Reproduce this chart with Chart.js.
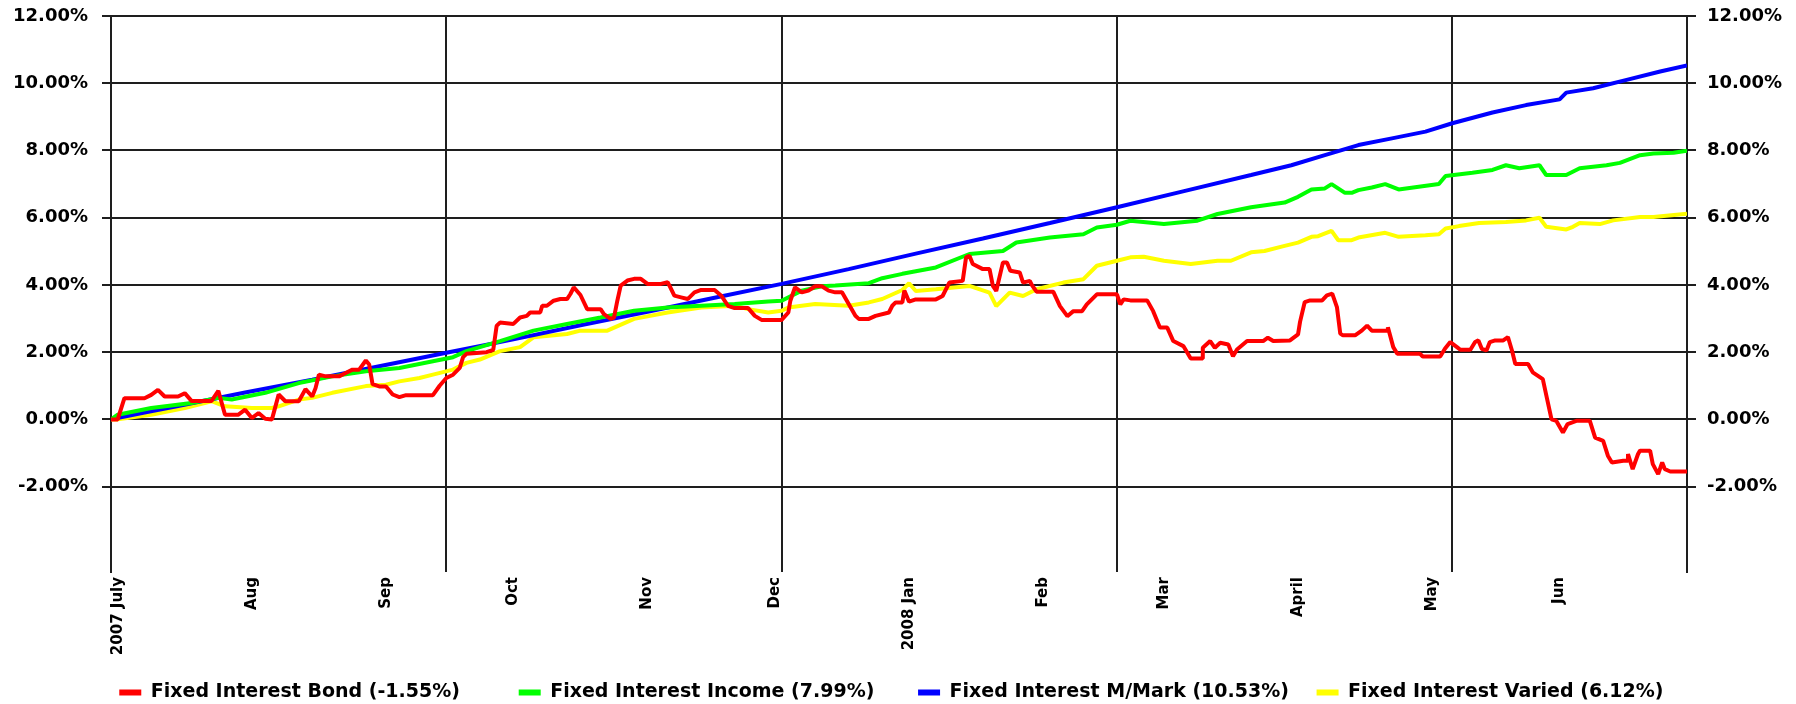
<!DOCTYPE html>
<html>
<head>
<meta charset="utf-8">
<script src="https://cdn.jsdelivr.net/npm/chart.js@4.4.1/dist/chart.umd.min.js"></script>
<style>
  html, body { margin: 0; padding: 0; background: #ffffff; }
  #wrap { width: 1796px; height: 704px; }
</style>
</head>
<body>
<div id="wrap"><canvas id="c" width="1796" height="704"></canvas></div>
<script>
// ---- Data (x = trading day index from 2 July 2007, y = cumulative return %) ----
const seriesLabels = [
  'Fixed Interest Bond (-1.55%)',
  'Fixed Interest Income (7.99%)',
  'Fixed Interest M/Mark (10.53%)',
  'Fixed Interest Varied (6.12%)'
];
const seriesColors = ['#ff0000', '#00ff00', '#0000ff', '#ffff00'];

const bondPoints = [[0,0],[1,0],[2,0.63],[5,0.63],[6,0.73],[7,0.88],[8,0.68],[10,0.68],[11,0.78],[12,0.55],[15,0.55],[16,0.85],[17,0.14],[19,0.14],[20,0.29],[21,0.04],[22,0.19],[23,0.02],[24,0.0],[25,0.74],[26,0.54],[28,0.54],[29,0.9],[30,0.68],[30.5,0.93],[31,1.33],[32,1.28],[34,1.28],[35,1.38],[36,1.48],[37,1.48],[38,1.75],[38.5,1.63],[39,1.05],[40,0.98],[41,0.98],[42,0.74],[43,0.66],[44,0.72],[48,0.72],[49,1.0],[50,1.23],[51,1.33],[52,1.53],[52.5,1.85],[53,1.95],[56,2.0],[57,2.07],[57.5,2.78],[58,2.88],[60,2.84],[61,3.03],[62,3.08],[62.5,3.18],[64,3.18],[64.3,3.38],[65,3.38],[66,3.53],[67,3.58],[68,3.58],[68.5,3.73],[69,3.93],[70,3.7],[71,3.28],[73,3.28],[73.5,3.13],[74.5,2.99],[75,3.03],[75.5,3.53],[76,3.98],[77,4.13],[78,4.18],[79,4.18],[80,4.03],[82,4.03],[83,4.08],[83.4,3.93],[84,3.68],[85,3.63],[86,3.58],[87,3.78],[88,3.85],[90,3.85],[91,3.68],[92,3.38],[93,3.31],[95,3.31],[96,3.08],[97,2.96],[100,2.96],[101,3.18],[101.3,3.53],[102,3.93],[103,3.78],[104,3.83],[105,3.96],[106,3.96],[107,3.83],[108,3.78],[109,3.78],[110,3.43],[111,3.08],[111.5,2.99],[113,2.99],[114,3.08],[116,3.18],[116.5,3.38],[117,3.48],[118,3.48],[118.3,3.83],[119,3.5],[120,3.57],[123,3.57],[124,3.67],[125,4.07],[127,4.12],[127.5,4.82],[128,4.87],[128.5,4.62],[130,4.47],[131,4.47],[131.5,3.97],[132,3.82],[133,4.67],[133.6,4.67],[134.1,4.42],[135.5,4.37],[136,4.07],[137,4.12],[137.3,4.0],[138,3.8],[140.5,3.8],[141.5,3.37],[142.6,3.07],[143.5,3.22],[144.8,3.22],[145.5,3.42],[147,3.72],[150,3.72],[150.5,3.42],[151,3.57],[152,3.54],[154.5,3.54],[155.4,3.22],[156.4,2.73],[157.5,2.73],[158.4,2.33],[159.9,2.18],[161,1.81],[162.7,1.81],[162.8,2.13],[163.9,2.33],[164.6,2.13],[165.4,2.28],[166.6,2.23],[167.3,1.88],[167.9,2.08],[169.4,2.33],[171.8,2.33],[172.5,2.43],[173.3,2.33],[175.8,2.35],[177,2.53],[177.3,2.9],[178,3.49],[178.8,3.54],[180.6,3.54],[181.3,3.69],[182.1,3.74],[182.8,3.34],[183.3,2.55],[183.7,2.5],[185.5,2.5],[186.5,2.64],[187.3,2.79],[188,2.64],[190.3,2.64],[190.4,2.74],[191.2,2.15],[191.8,1.95],[195.2,1.95],[195.6,1.87],[198.2,1.87],[198.9,2.1],[199.7,2.3],[200.7,2.15],[201.2,2.07],[202.7,2.07],[203.4,2.3],[203.9,2.35],[204.4,2.1],[205.1,2.05],[205.6,2.3],[206.4,2.35],[207.6,2.35],[208.3,2.45],[208.9,2.05],[209.4,1.65],[211.3,1.65],[212,1.4],[213.5,1.2],[214.2,0.55],[214.8,0.0],[215.5,-0.04],[216.5,-0.39],[217.2,-0.14],[218.6,-0.04],[220.5,-0.04],[221.3,-0.54],[222.5,-0.64],[223.2,-1.08],[223.8,-1.28],[225.5,-1.23],[226.1,-1.23],[226.2,-1.03],[226.9,-1.48],[227.7,-1.03],[228,-0.93],[229.5,-0.93],[229.9,-1.33],[230.7,-1.63],[231.3,-1.28],[231.7,-1.48],[232.5,-1.55],[235,-1.55]];

const incomePoints = [[0,0],[1,0.14],[6,0.34],[12,0.49],[16,0.64],[18,0.59],[23,0.79],[28,1.08],[33,1.28],[38,1.43],[43,1.53],[48,1.73],[51,1.85],[53,2.03],[58,2.33],[63,2.64],[68,2.84],[73,3.03],[78,3.23],[83,3.33],[88,3.38],[93,3.43],[98,3.51],[100,3.53],[103,3.83],[106,3.96],[108,3.98],[113,4.05],[115,4.2],[118,4.33],[123,4.52],[128,4.92],[133,5.01],[135,5.26],[140,5.41],[145,5.51],[147,5.71],[150,5.79],[152,5.91],[157,5.81],[162,5.91],[165,6.11],[170,6.31],[175,6.45],[177,6.62],[179,6.84],[181,6.87],[182,7.0],[184,6.74],[185,6.74],[186,6.82],[188,6.9],[190,7.0],[192,6.84],[195,6.92],[198,7.0],[199,7.24],[203,7.34],[206,7.42],[208,7.56],[210,7.47],[213,7.56],[214,7.27],[217,7.27],[219,7.47],[223,7.56],[225,7.63],[228,7.86],[230,7.91],[233,7.93],[235,7.99]];

const mmarkPoints = [[0,0],[5,0.2],[10,0.4],[20,0.8],[30,1.18],[40,1.58],[50,1.98],[60,2.38],[70,2.8],[80,3.2],[90,3.62],[100,4.03],[110,4.47],[120,4.93],[130,5.38],[140,5.84],[150,6.31],[160,6.79],[170,7.27],[176,7.56],[181,7.86],[186,8.16],[191,8.36],[196,8.56],[200,8.81],[206,9.13],[211,9.35],[216,9.52],[217,9.72],[221,9.85],[226,10.1],[231,10.35],[235,10.53]];

const variedPoints = [[0,0],[1,0],[6,0.14],[11,0.34],[15,0.54],[17,0.39],[21,0.34],[24,0.34],[25,0.39],[28,0.59],[30,0.64],[33,0.79],[38,0.99],[41,1.03],[43,1.13],[46,1.23],[48,1.33],[51,1.48],[53,1.68],[55,1.78],[58,2.03],[61,2.15],[63,2.44],[68,2.54],[70,2.64],[74,2.64],[78,2.99],[83,3.18],[88,3.33],[93,3.38],[95,3.28],[98,3.18],[100,3.23],[101,3.33],[105,3.43],[110,3.38],[113,3.48],[115,3.58],[118,3.85],[119,4.05],[120,3.82],[123,3.87],[128,3.97],[131,3.77],[132,3.37],[134,3.77],[136,3.67],[138,3.87],[142,4.07],[145,4.17],[147,4.57],[150,4.72],[152,4.82],[154,4.84],[157,4.72],[161,4.62],[165,4.72],[167,4.72],[170,4.97],[172,5.01],[175,5.16],[177,5.26],[179,5.43],[180,5.45],[182,5.61],[183,5.33],[185,5.33],[186,5.41],[190,5.55],[192,5.43],[196,5.48],[198,5.51],[199,5.68],[201,5.75],[204,5.84],[208,5.87],[211,5.92],[213,6.0],[214,5.73],[217,5.65],[218,5.73],[219,5.84],[222,5.81],[224,5.92],[228,6.02],[230,6.02],[235,6.12]];

const monthTicks  = [1, 21, 41, 60, 80, 99, 119, 139, 157, 177, 197, 216];
const monthLabels = ['2007 July', 'Aug', 'Sep', 'Oct', 'Nov', 'Dec', '2008 Jan', 'Feb', 'Mar', 'April', 'May', 'Jun'];
const gridDays    = [0, 50, 100, 150, 200];
const lastDay     = 235;
const yTicks      = [12, 10, 8, 6, 4, 2, 0, -2];
const yMin = -4.54, yMax = 12;

// ---- Chart ----
const gridColor = '#1e1e1e';
const toXY = pts => pts.map(p => ({ x: p[0], y: p[1] }));
const allPoints = [bondPoints, incomePoints, mmarkPoints, variedPoints];

const legendFont = { family: 'DejaVu Sans', weight: 'bold', size: 19 };
const legendTargets = [364.5, 364.5, 364.5, 330.5];

const datasets = allPoints.map((pts, i) => ({
  label: seriesLabels[i],
  data: toXY(pts),
  borderColor: seriesColors[i],
  backgroundColor: seriesColors[i],
  borderWidth: 4,
  borderJoinStyle: 'bevel',
  pointRadius: 0,
  pointHoverRadius: 0,
  tension: 0,
  fill: false
}));

const yAxisCommon = {
  type: 'linear', min: yMin, max: yMax,
  afterBuildTicks: s => { s.ticks = yTicks.map(v => ({ value: v })); },
};

new Chart(document.getElementById('c'), {
  type: 'line',
  data: { datasets },
  options: {
    responsive: false,
    animation: false,
    devicePixelRatio: 1,
    layout: { padding: { top: 16, left: 0, right: 0, bottom: -8 } },
    plugins: {
      tooltip: { enabled: false },
      legend: {
        position: 'bottom',
        align: 'center',
        labels: {
          boxWidth: 22, boxHeight: 6, padding: 4,
          font: legendFont, color: '#000',
          generateLabels: chart => {
            const ctx = chart.ctx;
            ctx.save();
            ctx.font = 'bold 19px "DejaVu Sans"';
            const items = chart.data.datasets.map((ds, i) => {
              let text = ds.label;
              while (ctx.measureText(text + ' ').width <= legendTargets[i]) text += ' ';
              while (ctx.measureText(text + '\u200A').width <= legendTargets[i]) text += '\u200A';
              return { text, fillStyle: ds.borderColor, strokeStyle: ds.borderColor, lineWidth: 0,
                       hidden: !chart.isDatasetVisible(i), datasetIndex: i, fontColor: '#000' };
            });
            ctx.restore();
            return items;
          }
        }
      }
    },
    scales: {
      x: {
        type: 'linear', min: 0, max: lastDay, position: 'bottom',
        afterBuildTicks: s => { s.ticks = gridDays.map(v => ({ value: v })); },
        ticks: { display: false },
        grid: { color: gridColor, lineWidth: 2, drawTicks: false },
        border: { display: false },
        afterFit: s => { s.height = 0; }
      },
      xMonths: {
        type: 'linear', min: 0, max: lastDay, position: 'bottom',
        afterBuildTicks: s => { s.ticks = monthTicks.map(v => ({ value: v })); },
        grid: { display: false, drawTicks: false },
        border: { display: false },
        ticks: {
          autoSkip: false, maxRotation: 90, minRotation: 90, padding: 5,
          font: { family: 'DejaVu Sans', weight: 'bold', size: 15 }, color: '#000',
          callback: v => monthLabels[monthTicks.indexOf(v)]
        },
        afterFit: s => { s.height = 107; }
      },
      y: Object.assign({}, yAxisCommon, {
        position: 'left',
        ticks: { font: { family: 'DejaVu Sans', weight: 'bold', size: 18 }, color: '#000', padding: 14,
                 callback: v => v.toFixed(2) + '%' },
        grid: { color: gridColor, lineWidth: 2, tickLength: 9 },
        border: { display: true, color: gridColor, width: 2 },
        afterFit: s => { s.width = 111; s.paddingTop = 0; s.paddingBottom = 0; }
      }),
      y2: Object.assign({}, yAxisCommon, {
        position: 'right',
        ticks: { font: { family: 'DejaVu Sans', weight: 'bold', size: 18 }, color: '#000', padding: 11,
                 callback: v => v.toFixed(2) + '%' },
        grid: { color: gridColor, lineWidth: 2, tickLength: 9, drawOnChartArea: false },
        border: { display: true, color: gridColor, width: 2 },
        afterFit: s => { s.width = 109; s.paddingTop = 0; s.paddingBottom = 0; }
      })
    }
  }
});
</script>
</body>
</html>
